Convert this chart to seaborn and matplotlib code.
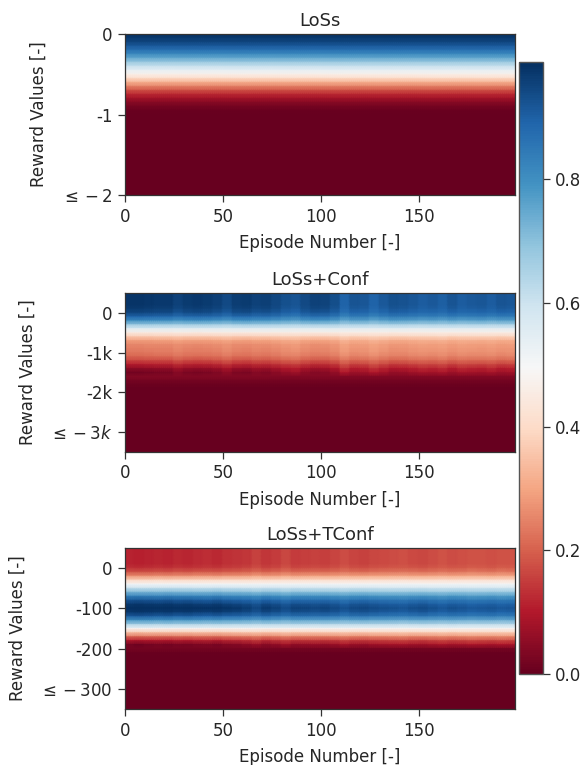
import numpy as np
import pandas as pd
import matplotlib
matplotlib.use("Agg")
import matplotlib.pyplot as plt
import seaborn as sns

# ---------------- data ----------------
titles = ["LoSs", "LoSs+Conf", "LoSs+TConf"]
n_episodes = 200
episode_ticks = [0, 50, 100, 150]
episode_block = 5  # one modulation value per 5 episodes

# Panel 1: reward levels from 0 down to -2 (step 0.05)
loss_top, loss_step = 0.0, 0.05
loss_profile = [0.99, 0.97, 0.95, 0.91, 0.87, 0.81, 0.75, 0.68, 0.61, 0.54,
                0.47, 0.40, 0.32, 0.25, 0.18, 0.12, 0.08, 0.045, 0.02, 0.005] + [0.0] * 21
loss_mod = [0.0] * 40
loss_yticks = [0, -1, -2]
loss_ylabels = ["0", "-1", r"$\leq -2$"]

# Panel 2: reward levels from 500 down to -3500 (step 100)
conf_top, conf_step = 500.0, 100.0
conf_profile = [0.93, 0.93, 0.93, 0.93, 0.92, 0.90, 0.85, 0.77, 0.66, 0.55,
                0.46, 0.38, 0.31, 0.28, 0.27, 0.26, 0.24, 0.20, 0.15, 0.10,
                0.065, 0.04, 0.02, 0.01, 0.003] + [0.0] * 16
conf_mod = [0.12, 0.12, 0.11, 0.10, 0.10, 0.06, 0.09, 0.10,
            0.09, 0.07, 0.03, 0.08, 0.09, 0.06, 0.07, 0.04,
            0.00, -0.02, 0.03, 0.06, 0.05, 0.01, -0.08, -0.02,
            -0.03, -0.08, -0.04, 0.00, -0.01, -0.03, -0.05, -0.04,
            -0.06, -0.02, -0.05, -0.04, -0.03, -0.05, -0.02, -0.03]
conf_yticks = [0, -1000, -2000, -3000]
conf_ylabels = ["0", "-1k", "-2k", r"$\leq -3k$"]

# Panel 3: reward levels from 50 down to -350 (step 10)
tconf_top, tconf_step = 50.0, 10.0
tconf_profile = [0.15, 0.15, 0.15, 0.15, 0.15, 0.17, 0.21, 0.29, 0.40, 0.50,
                 0.60, 0.70, 0.80, 0.88, 0.93, 0.96, 0.93, 0.87, 0.76, 0.64,
                 0.50, 0.37, 0.25, 0.14, 0.06, 0.02, 0.005] + [0.0] * 14
tconf_mod = [0.10, 0.11, 0.10, 0.09, 0.10, 0.08, 0.09, 0.07,
             0.06, 0.08, 0.05, 0.04, 0.02, -0.02, 0.03, 0.00,
             -0.04, 0.00, -0.01, -0.02, -0.01, -0.03, -0.06, -0.03,
             -0.02, -0.04, -0.05, -0.06, -0.07, -0.05, -0.04, -0.06,
             -0.08, -0.06, -0.07, -0.09, -0.08, -0.07, -0.09, -0.08]
tconf_yticks = [0, -100, -200, -300]
tconf_ylabels = ["0", "-100", "-200", r"$\leq -300$"]

cbar_ticks = [0.0, 0.2, 0.4, 0.6, 0.8]
vmin, vmax = 0.0, 0.99

panels = [
    (loss_top, loss_step, loss_profile, loss_mod, loss_yticks, loss_ylabels),
    (conf_top, conf_step, conf_profile, conf_mod, conf_yticks, conf_ylabels),
    (tconf_top, tconf_step, tconf_profile, tconf_mod, tconf_yticks, tconf_ylabels),
]

# ---------------- figure ----------------
sns.set_style("ticks")
plt.rcParams["font.family"] = ["DejaVu Sans"]
plt.rcParams["font.size"] = 12

W, H = 584, 765
fig = plt.figure(figsize=(W / 100, H / 100), dpi=100)

def frac(left, top, right, bottom):
    return [left / W, 1 - bottom / H, (right - left) / W, (bottom - top) / H]

ax_boxes = [frac(125, 34, 515, 195), frac(125, 293, 515, 452), frac(125, 548, 515, 709)]
cax = fig.add_axes(frac(519, 62, 543, 674))

txt = "#262626"
mesh = None
for (top, step, profile, mod, yt, yl), box, title in zip(panels, ax_boxes, titles):
    ax = fig.add_axes(box)
    p = np.array(profile)[:, None]
    m = np.repeat(np.array(mod), episode_block)[None, :]
    values = np.where(p > 0.05, p + m * (p - 0.5), p) * np.ones((1, n_episodes))
    values = np.clip(values, 0, 1)
    levels = top - step * np.arange(len(profile))
    df = pd.DataFrame(values, index=levels, columns=np.arange(n_episodes))
    sns.heatmap(df, ax=ax, cmap="RdBu", vmin=vmin, vmax=vmax, cbar=False,
                xticklabels=False, yticklabels=False, shading="gouraud")
    mesh = ax.collections[0]
    # gouraud mesh has its vertices at integer positions 0..n-1
    ax.set_xlim(0, n_episodes - 1)
    ax.set_ylim(len(profile) - 1, 0)
    ax.set_xticks(episode_ticks)
    ax.set_xticklabels([str(t) for t in episode_ticks], rotation=0)
    ax.set_yticks([(top - v) / step for v in yt])
    ax.set_yticklabels(yl, rotation=0)
    ax.tick_params(axis="both", direction="out", length=5, width=0.9, pad=4,
                   colors="#333333", labelcolor=txt, labelsize=12)
    for s in ax.spines.values():
        s.set_visible(True)
        s.set_color("#333333")
        s.set_linewidth(0.9)
    ax.set_xlabel("Episode Number [-]", fontsize=12, color=txt, labelpad=6)
    ax.set_ylabel("Reward Values [-]", fontsize=12, color=txt, labelpad=9)
    ax.set_title(title, fontsize=13, color=txt, pad=6)

cb = fig.colorbar(mesh, cax=cax, ticks=cbar_ticks)
cb.ax.yaxis.set_major_formatter(matplotlib.ticker.FormatStrFormatter("%.1f"))
cb.ax.tick_params(labelsize=12, length=5, width=0.9, colors="#333333", labelcolor=txt)
cb.outline.set_edgecolor("#555555")
cb.outline.set_linewidth(1.0)

fig.savefig("out.png", dpi=100)
